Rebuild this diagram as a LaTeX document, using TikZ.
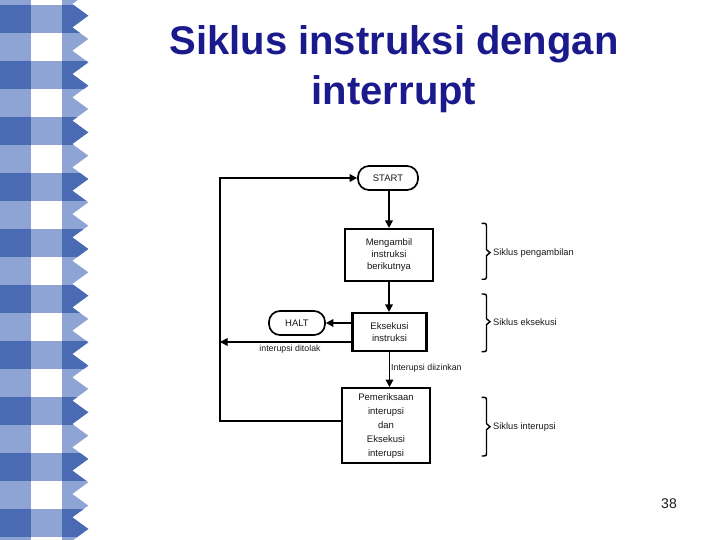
\documentclass[tikz,border=0pt]{standalone}
\usepackage{fontspec}
\setmainfont{Liberation Sans}
\usetikzlibrary{arrows.meta}
\definecolor{darkb}{RGB}{74,107,180}
\definecolor{lightb}{RGB}{141,164,212}
\definecolor{titleblue}{RGB}{26,26,140}
\definecolor{inkc}{RGB}{25,25,25}
\tikzset{
  titletext/.style={anchor=base, text=titleblue, font=\fontsize{40}{48}\selectfont\bfseries},
  procbox/.style={draw=black, line width=2.1pt, fill=white, align=center, inner sep=1pt, text=inkc, font=\fontsize{9.5}{12}\selectfont},
  termbox/.style={draw=black, line width=1.7pt, rounded corners=11pt, align=center, inner sep=1pt, text=inkc, font=\fontsize{9.5}{12}\selectfont},
  conn/.style={draw=black, line width=1.6pt},
  arr/.style={conn, -{Triangle[length=7.5pt,width=7.5pt]}},
  smalllabel/.style={font=\fontsize{8.8}{11}\selectfont, text=inkc, inner sep=0pt},
  bracelabel/.style={font=\fontsize{9.3}{11}\selectfont, text=inkc, anchor=west, inner sep=0pt},
  bracestyle/.style={draw=black, line width=1.4pt, line join=miter}
}
\begin{document}
\begin{tikzpicture}[x=1pt,y=-1pt]
\useasboundingbox (0,0) rectangle (720,540);
% gingham border
\fill[lightb] (0,0) rectangle (31,540);
\begin{scope}
  \clip (61.7,-30) \foreach \j in {-1,...,23} { -- (88.3,{15.7+23.33*\j}) -- (72.3,{27.37+23.33*\j}) } -- (61.7,570) -- cycle;
  \fill[lightb] (61.7,-30) rectangle (95,570);
  \foreach \k [evaluate=\k as \yy using 5.3+28*\k] in {0,2,...,18}
    \fill[darkb] (61.7,\yy) rectangle (95,\yy+28);
\end{scope}
\foreach \k [evaluate=\k as \yy using 5.3+28*\k] in {0,2,...,18} {
  \fill[darkb] (0,\yy) rectangle (31,\yy+28);
  \fill[lightb] (31,\yy) rectangle (61.7,\yy+28);
}
% title
\node[titletext] (t1) at (394,55) {Siklus instruksi dengan};
\node[titletext] (t2) at (394,105) {interrupt};
% flowchart
\node[termbox, minimum width=60pt, minimum height=24pt] (start) at (388,178) {START};
\node[procbox, minimum width=88pt, minimum height=52pt] (b1) at (389,255) {Mengambil\\instruksi\\berikutnya};
\node[procbox, minimum width=74pt, minimum height=38pt] (b2) at (389.5,332) {Eksekusi\\instruksi};
\node[termbox, minimum width=56pt, minimum height=24pt] (halt) at (297,323) {HALT};
\node[procbox, minimum width=88pt, minimum height=75pt, font=\fontsize{9.5}{14}\selectfont] (b3) at (386,425.7) {Pemeriksaan\\interupsi\\dan\\Eksekusi\\interupsi};
\coordinate (rej) at (220,342);
\coordinate (lb) at (220,421);
\coordinate (lt) at (220,178);
\draw[arr] (start.south -| b1.north) -- (b1.north);
\draw[arr] (b1.south) -- (b1.south |- b2.north);
\draw[arr] (b2.west |- halt.east) -- (halt.east);
\draw[arr] (b2.west |- rej) -- (rej);
\draw[arr] (b2.south) -- (b2.south |- b3.north);
\draw[arr] (b3.west |- lb) -- (lb) -- (lt) -- (start.west);
\node[smalllabel] (ldit) at (290,349.5) {interupsi ditolak};
\node[smalllabel, anchor=west] (ldiz) at (391,368) {Interupsi diizinkan};
% braces
\draw[bracestyle] (481.7,223.3) .. controls (486.5,223.3) .. (486.5,228) -- (486.5,249.7) -- (490,252.7) -- (486.5,255.7) -- (486.5,274.6) .. controls (486.5,279.3) .. (481.7,279.3);
\draw[bracestyle] (481.7,294) .. controls (486.5,294) .. (486.5,298.7) -- (486.5,318.7) -- (490,321.7) -- (486.5,324.7) -- (486.5,347) .. controls (486.5,351.7) .. (481.7,351.7);
\draw[bracestyle] (481.7,397.3) .. controls (486.5,397.3) .. (486.5,402) -- (486.5,423.7) -- (490,426.7) -- (486.5,429.7) -- (486.5,451.3) .. controls (486.5,456) .. (481.7,456);
\node[bracelabel] (s1) at (493,252.7) {Siklus pengambilan};
\node[bracelabel] (s2) at (493,321.7) {Siklus eksekusi};
\node[bracelabel] (s3) at (493,426.7) {Siklus interupsi};
% page number
\node[font=\fontsize{14}{16}\selectfont, text=inkc, inner sep=0pt] (pg) at (669,503.5) {38};
\end{tikzpicture}
\end{document}
